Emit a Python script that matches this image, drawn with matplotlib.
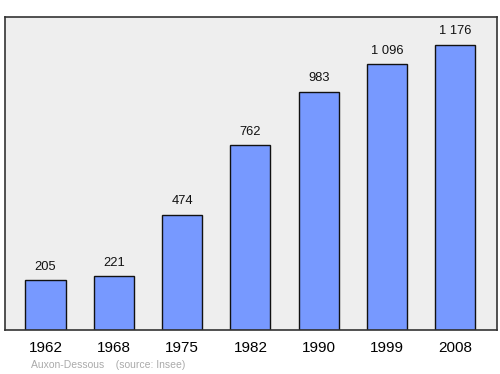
import matplotlib
matplotlib.use("Agg")
import matplotlib.pyplot as plt

years = ["1962", "1968", "1975", "1982", "1990", "1999", "2008"]
population = [205, 221, 474, 762, 983, 1096, 1176]
value_labels = ["205", "221", "474", "762", "983", "1 096", "1 176"]

plt.rcParams['font.family'] = ['Liberation Sans', 'DejaVu Sans']

fig = plt.figure(figsize=(5, 3.74), dpi=100)
ax = fig.add_axes([0.01, 0.1176, 0.984, 0.837])
ax.set_facecolor('#eeeeee')
x = list(range(len(years)))
ax.bar(x, population, width=0.586, color='#7799ff', edgecolor='#111111', linewidth=1.0, zorder=2)
for xi, v, lab in zip(x, population, value_labels):
    ax.annotate(lab, (xi, v), xytext=(0, 5.5), textcoords='offset points',
                ha='center', va='bottom', fontsize=9.3, color='#111111')
ax.set_xlim(-0.593, 6.61)
ax.set_ylim(0, 1291)
ax.set_xticks(x)
ax.set_xticklabels(years, fontsize=11)
ax.tick_params(axis='x', length=0, pad=8)
ax.set_yticks([])
for s in ax.spines.values():
    s.set_color('#333333')
    s.set_linewidth(1.2)
fig.text(0.062, 0.024, "Auxon-Dessous    (source: Insee)", fontsize=7.5, color='#aaaaaa', ha='left', va='center')
fig.savefig('out.png', dpi=100)
